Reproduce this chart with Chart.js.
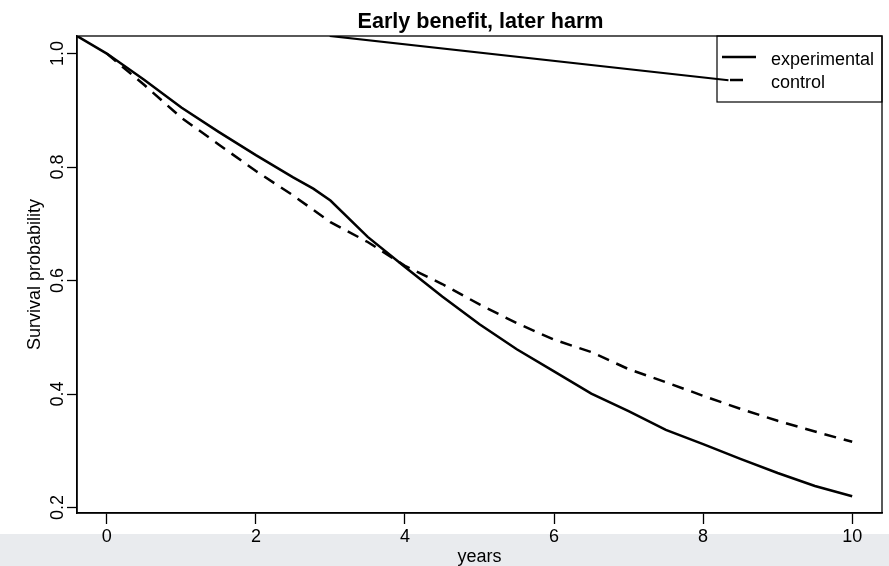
<!DOCTYPE html>
<html>
<head>
<meta charset="utf-8">
<script src="https://cdn.jsdelivr.net/npm/chart.js@4/dist/chart.umd.min.js"></script>
<style>
  html, body { margin: 0; padding: 0; overflow: hidden; }
  body {
    width: 889px; height: 566px;
    background: linear-gradient(to bottom, #ffffff 534px, #e9ebee 534px);
  }
  #wrap { position: relative; width: 889px; height: 580px; }
</style>
</head>
<body>
<div id="wrap"><canvas id="surv-chart"></canvas></div>
<script>
const chartTitle = 'Early benefit, later harm';

// survival estimates, experimental arm
const expYears = [-0.4, 0, 0.5, 1, 1.5, 2, 2.5, 2.77, 3, 3.5, 4, 4.5, 5, 5.5, 6, 6.5, 7, 7.5, 8, 8.5, 9, 9.5, 10];
const expSurv  = [1.031, 1.0, 0.954, 0.905, 0.862, 0.821, 0.782, 0.762, 0.741, 0.677, 0.624, 0.572, 0.523, 0.479, 0.440, 0.401, 0.370, 0.337, 0.312, 0.286, 0.261, 0.238, 0.220];

// survival estimates, control arm
const ctrlYears = [0, 0.5, 1, 1.5, 2, 2.5, 3, 3.5, 4, 4.5, 5, 5.5, 6, 6.5, 7, 7.5, 8, 8.5, 9, 9.5, 10];
const ctrlSurv  = [1.0, 0.945, 0.887, 0.840, 0.793, 0.750, 0.703, 0.668, 0.626, 0.594, 0.558, 0.525, 0.496, 0.474, 0.444, 0.421, 0.397, 0.374, 0.353, 0.334, 0.316];

// stray straight segment running into the legend
const strayYears = [2.99, 8.34];
const straySurv  = [1.031, 0.953];

const xTicks = [0, 2, 4, 6, 8, 10];
const yTicks = [0.2, 0.4, 0.6, 0.8, 1.0];
const legendLabels = ['experimental', 'control'];

const FONT = "'Liberation Sans', Arial, Helvetica, sans-serif";
Chart.defaults.font.family = FONT;
Chart.defaults.color = '#000';

function toPoints(xs, ys) {
    return xs.map((x, i) => ({ x: x, y: ys[i] }));
}

// box, title, rotated y labels and legend
const rPlotDecor = {
    id: 'rPlotDecor',
    afterDraw(chart) {
        const ctx = chart.ctx;
        const area = chart.chartArea;
        const yScale = chart.scales.y;

        ctx.save();
        ctx.strokeStyle = '#000';
        ctx.lineWidth = 1.3;
        ctx.strokeRect(area.left, area.top, area.right - area.left, area.bottom - area.top);

        // title
        ctx.fillStyle = '#000';
        ctx.font = 'bold 21.6px ' + FONT;
        ctx.textAlign = 'center';
        ctx.textBaseline = 'alphabetic';
        ctx.fillText(chartTitle, (area.left + area.right) / 2 + 1, 28);

        // y tick labels, reading upwards
        ctx.font = '18px ' + FONT;
        yScale.ticks.forEach(t => {
            const py = yScale.getPixelForValue(t.value);
            ctx.save();
            ctx.translate(62.5, py);
            ctx.rotate(-Math.PI / 2);
            ctx.textAlign = 'center';
            ctx.fillText(t.value.toFixed(1), 0, 0);
            ctx.restore();
        });

        // legend in the top right corner
        const lx = 717, ly = area.top, lw = area.right - 717, lh = 66;
        ctx.lineWidth = 1.2;
        ctx.strokeRect(lx, ly, lw, lh);
        ctx.lineWidth = 2.5;
        ctx.beginPath();
        ctx.moveTo(lx + 5, ly + 21);
        ctx.lineTo(lx + 39, ly + 21);
        ctx.stroke();
        ctx.beginPath();
        ctx.moveTo(lx + 13, ly + 44);
        ctx.lineTo(lx + 26, ly + 44);
        ctx.stroke();
        ctx.textAlign = 'left';
        ctx.fillText(legendLabels[0], lx + 54, ly + 29);
        ctx.fillText(legendLabels[1], lx + 54, ly + 52);
        ctx.restore();
    }
};

const ctx = document.getElementById('surv-chart').getContext('2d');

new Chart(ctx, {
    type: 'line',
    data: {
        datasets: [
            {
                label: legendLabels[0],
                data: toPoints(expYears, expSurv),
                borderColor: '#000',
                borderWidth: 2.5,
                pointRadius: 0,
                tension: 0
            },
            {
                label: legendLabels[1],
                data: toPoints(ctrlYears, ctrlSurv),
                borderColor: '#000',
                borderWidth: 2.5,
                borderDash: [12, 8],
                pointRadius: 0,
                tension: 0
            },
            {
                label: 'stray',
                data: toPoints(strayYears, straySurv),
                borderColor: '#000',
                borderWidth: 2.2,
                pointRadius: 0,
                tension: 0
            }
        ]
    },
    options: {
        responsive: true,
        maintainAspectRatio: false,
        animation: false,
        layout: { padding: { left: 0, right: 7, top: 36, bottom: 0 } },
        plugins: {
            legend: { display: false },
            title: { display: false },
            tooltip: { enabled: false }
        },
        scales: {
            x: {
                type: 'linear',
                min: -0.4,
                max: 10.4,
                afterFit: s => { s.height = 67; },
                afterBuildTicks: s => { s.ticks = xTicks.map(v => ({ value: v })); },
                grid: { drawOnChartArea: false, drawTicks: true, tickLength: 11, tickColor: '#000', tickWidth: 1.3 },
                border: { color: '#000', width: 1.5 },
                ticks: { font: { size: 18 }, padding: 2, color: '#000' },
                title: { display: true, text: 'years', font: { size: 18 }, padding: { top: 0, bottom: 12 } }
            },
            y: {
                type: 'linear',
                min: 0.1905,
                max: 1.031,
                afterFit: s => { s.width = 77; },
                afterBuildTicks: s => { s.ticks = yTicks.map(v => ({ value: v })); },
                grid: { drawOnChartArea: false, drawTicks: true, tickLength: 10, tickColor: '#000', tickWidth: 1.3 },
                border: { color: '#000', width: 1.5 },
                ticks: { display: false },
                title: { display: true, text: 'Survival probability', font: { size: 18 }, padding: { top: 24, bottom: 0 } }
            }
        }
    },
    plugins: [rPlotDecor]
});
</script>
</body>
</html>
